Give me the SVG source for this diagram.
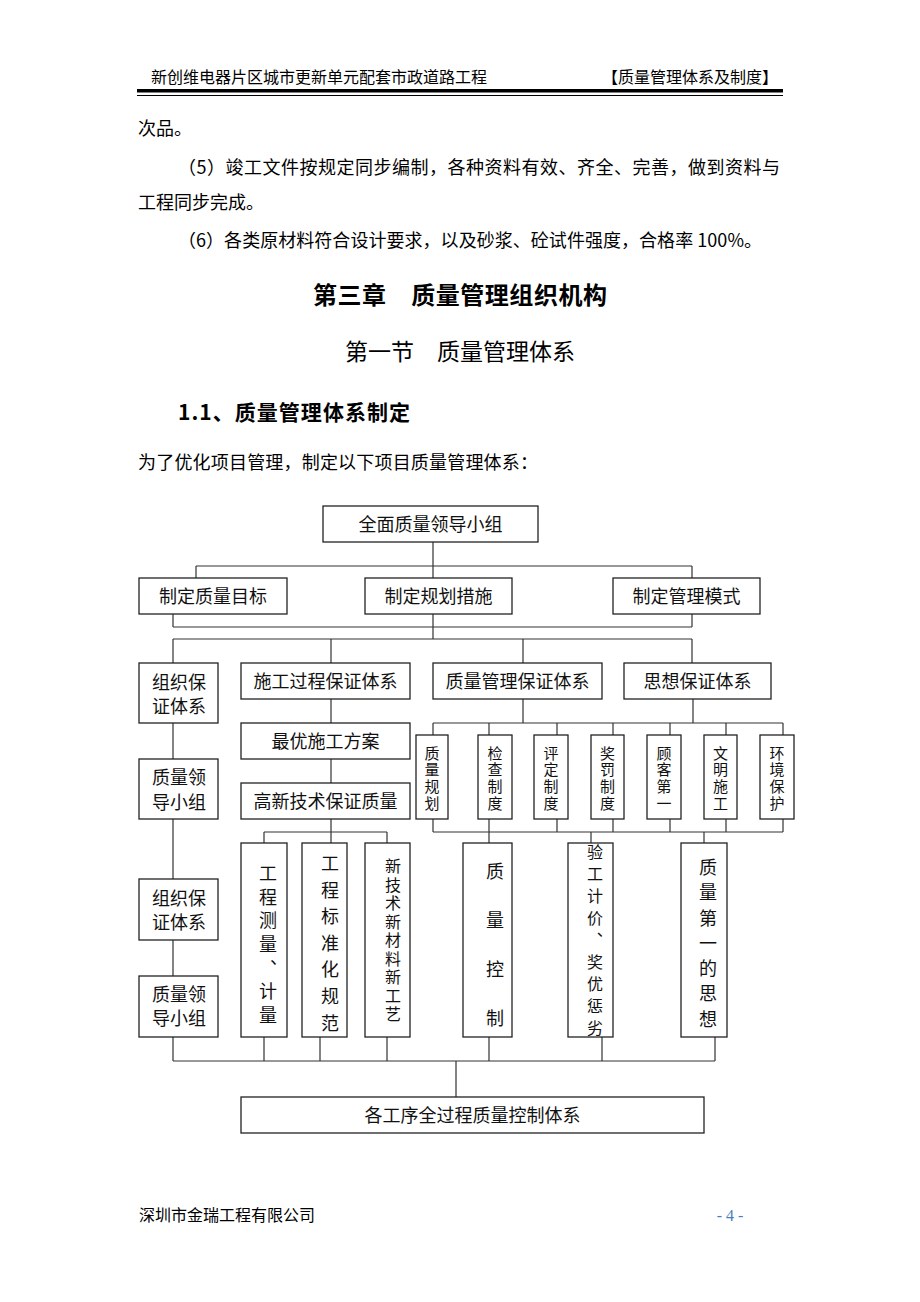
<svg xmlns="http://www.w3.org/2000/svg" width="920" height="1302" viewBox="0 0 920 1302">
<style>
.f{font-family:"Noto Sans CJK SC","Noto Sans CJK JP",sans-serif;fill:#000}
.t{font-family:"Noto Sans CJK SC","Noto Sans CJK JP",sans-serif;font-size:18px;fill:#111;text-anchor:middle}
.v{font-family:"Noto Sans CJK SC","Noto Sans CJK JP",sans-serif;fill:#111;text-anchor:middle;writing-mode:vertical-rl}
.box{fill:#fff;stroke:#222;stroke-width:1.3}
.c{stroke:#333;stroke-width:1.2;fill:none}
</style>
<rect width="920" height="1302" fill="#fff"/>
<!-- header -->
<text class="f" x="151" y="82.7" font-size="16">新创维电器片区城市更新单元配套市政道路工程</text>
<text class="f" x="778" y="82.7" font-size="16" text-anchor="end">【质量管理体系及制度】</text>
<rect x="137" y="89" width="646" height="3.5" fill="#000"/>
<line x1="137" y1="95.5" x2="783" y2="95.5" stroke="#000" stroke-width="1"/>
<!-- body -->
<text class="f" x="138" y="134.5" font-size="18">次品。</text>
<text class="f" x="178" y="173.5" font-size="18" textLength="602" lengthAdjust="spacing">（5）竣工文件按规定同步编制，各种资料有效、齐全、完善，做到资料与</text>
<text class="f" x="138" y="208.5" font-size="18">工程同步完成。</text>
<text class="f" x="178" y="246.5" font-size="18" textLength="584" lengthAdjust="spacing">（6）各类原材料符合设计要求，以及砂浆、砼试件强度，合格率 100%。</text>
<text class="f" x="460" y="303.5" font-size="24" font-weight="bold" text-anchor="middle" textLength="294" lengthAdjust="spacing">第三章　质量管理组织机构</text>
<text class="f" x="460" y="360" font-size="23" text-anchor="middle" textLength="230" lengthAdjust="spacing">第一节　质量管理体系</text>
<text class="f" x="178" y="419.5" font-size="21" font-weight="bold" textLength="232" lengthAdjust="spacing">1.1、质量管理体系制定</text>
<text class="f" x="138" y="468.5" font-size="18" textLength="400" lengthAdjust="spacing">为了优化项目管理，制定以下项目质量管理体系：</text>

<!-- connectors -->
<g id="connectors" class="c">
<path d="M433,542V578 M196,566H692 M196,566V578 M692,566V578"/>
<path d="M173,614V627 M692,614V627 M173,627H692 M433,614V639 M173,639H692"/>
<path d="M173,639V663 M331,639V663 M523,639V663 M692,639V663"/>
<path d="M173,723V759 M173,819V879 M173,940V976 M173,1037V1061"/>
<path d="M331,699V723 M331,759V783 M331,819V843 M264,832H387 M264,832V843 M387,832V843"/>
<path d="M523,699V723 M693,699V723 M433,723H783"/>
<path d="M433,723V735 M489,723V735 M557,723V735 M613,723V735 M670,723V735 M726,723V735 M783,723V735"/>
<path d="M433,819V832 M489,819V832 M557,819V832 M613,819V832 M670,819V832 M726,819V832 M783,819V832 M433,832H783"/>
<path d="M489,832V843 M591,832V843 M704,832V843"/>
<path d="M264,1037V1061 M320,1037V1061 M387,1037V1061 M489,1037V1061 M602,1037V1061 M715,1037V1061 M173,1061H715 M456,1061V1097"/>
</g>

<!-- nodes -->
<g id="n-top"><rect class="box" x="323" y="506" width="215" height="36"/><text class="t" x="430.5" y="530.5">全面质量领导小组</text></g>
<g id="n-goal"><rect class="box" x="139" y="578" width="148" height="36"/><text class="t" x="213" y="602.5">制定质量目标</text></g>
<g id="n-plan"><rect class="box" x="365" y="578" width="147" height="36"/><text class="t" x="438.5" y="602.5">制定规划措施</text></g>
<g id="n-mode"><rect class="box" x="613" y="578" width="147" height="36"/><text class="t" x="686.5" y="602.5">制定管理模式</text></g>

<g id="n-org1"><rect class="box" x="139" y="663" width="79" height="60"/><text class="t" x="179" y="688.5">组织保</text><text class="t" x="179" y="712.5">证体系</text></g>
<g id="n-lead1"><rect class="box" x="139" y="759" width="79" height="60"/><text class="t" x="179" y="783.5">质量领</text><text class="t" x="179" y="808.5">导小组</text></g>
<g id="n-org2"><rect class="box" x="139" y="879" width="79" height="61"/><text class="t" x="179" y="904.5">组织保</text><text class="t" x="179" y="928.5">证体系</text></g>
<g id="n-lead2"><rect class="box" x="139" y="976" width="79" height="61"/><text class="t" x="179" y="1000.5">质量领</text><text class="t" x="179" y="1025">导小组</text></g>

<g id="n-proc"><rect class="box" x="241" y="663" width="169" height="36"/><text class="t" x="325.5" y="687.5">施工过程保证体系</text></g>
<g id="n-best"><rect class="box" x="241" y="723" width="169" height="36"/><text class="t" x="325.5" y="747.5">最优施工方案</text></g>
<g id="n-tech"><rect class="box" x="241" y="783" width="169" height="36"/><text class="t" x="325.5" y="807.5">高新技术保证质量</text></g>
<g id="n-qms"><rect class="box" x="433" y="663" width="169" height="36"/><text class="t" x="517.5" y="687.5">质量管理保证体系</text></g>
<g id="n-idea"><rect class="box" x="624" y="663" width="147" height="36"/><text class="t" x="697.5" y="687.5">思想保证体系</text></g>

<g id="n-s1"><rect class="box" x="416" y="735" width="32" height="84"/><text class="v" x="432" y="779" font-size="15" letter-spacing="1.8">质量规划</text></g>
<g id="n-s2"><rect class="box" x="478" y="735" width="34" height="84"/><text class="v" x="495" y="779" font-size="15" letter-spacing="1.8">检查制度</text></g>
<g id="n-s3"><rect class="box" x="534" y="735" width="34" height="84"/><text class="v" x="551" y="779" font-size="15" letter-spacing="1.8">评定制度</text></g>
<g id="n-s4"><rect class="box" x="591" y="735" width="33" height="84"/><text class="v" x="607.5" y="779" font-size="15" letter-spacing="1.8">奖罚制度</text></g>
<g id="n-s5"><rect class="box" x="647" y="735" width="34" height="84"/><text class="v" x="664" y="779" font-size="15" letter-spacing="1.8">顾客第一</text></g>
<g id="n-s6"><rect class="box" x="704" y="735" width="33" height="84"/><text class="v" x="720.5" y="779" font-size="15" letter-spacing="1.8">文明施工</text></g>
<g id="n-s7"><rect class="box" x="760" y="735" width="34" height="84"/><text class="v" x="777" y="779" font-size="15" letter-spacing="1.8">环境保护</text></g>

<g id="n-t1"><rect class="box" x="241" y="843" width="46" height="194"/><text class="v" x="268" y="947" font-size="18" letter-spacing="5.7">工程测量、计量</text></g>
<g id="n-t2"><rect class="box" x="302" y="843" width="45" height="194"/><text class="v" x="330" y="947.3" font-size="18" letter-spacing="8.6">工程标准化规范</text></g>
<g id="n-t3"><rect class="box" x="365" y="843" width="45" height="194"/><text class="v" x="393" y="941.3" font-size="16" letter-spacing="2.5">新技术新材料新工艺</text></g>
<g id="n-t4"><rect class="box" x="463" y="843" width="49" height="194"/><text class="v" x="495" y="960.5" font-size="18" letter-spacing="31">质量控制</text></g>
<g id="n-t5"><rect class="box" x="568" y="843" width="45" height="194"/><text class="v" x="595" y="943" font-size="16" letter-spacing="6">验工计价、奖优惩劣</text></g>
<g id="n-t6"><rect class="box" x="681" y="843" width="46" height="194"/><text class="v" x="708" y="946.7" font-size="18" letter-spacing="7.3">质量第一的思想</text></g>

<g id="n-bottom"><rect class="box" x="241" y="1097" width="463" height="36"/><text class="t" x="472.5" y="1121.5">各工序全过程质量控制体系</text></g>

<!-- footer -->
<text class="f" x="139" y="1220.8" font-size="16">深圳市金瑞工程有限公司</text>
<text x="730" y="1220.8" font-size="16" text-anchor="middle" font-family="'Liberation Serif',serif" fill="#4a7ebb">- 4 -</text>
</svg>
